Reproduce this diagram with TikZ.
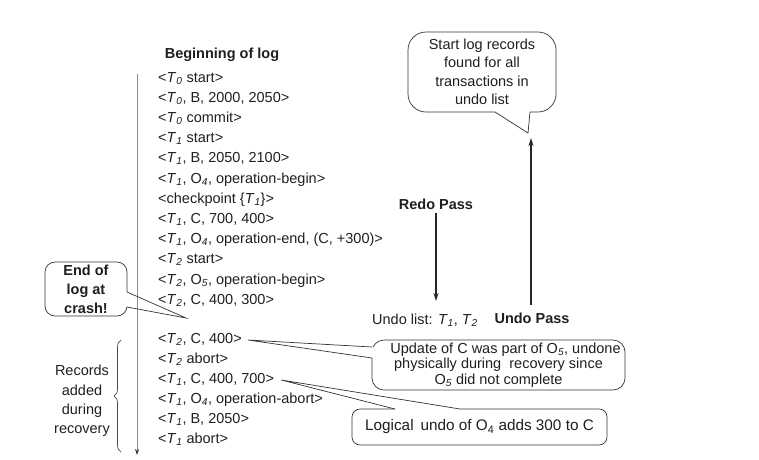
\documentclass[tikz,border=0pt]{standalone}
\usepackage{fontspec}
\setmainfont{Liberation Sans}
\usetikzlibrary{arrows.meta,decorations.pathreplacing}
\newcommand\Tt[1]{\textit{T}\textsubscript{\textit{#1}}}
\newcommand\Ob[1]{O\textsubscript{\textit{#1}}}
\newcommand\Oc[1]{O\textsubscript{#1}}
\begin{document}
\begin{tikzpicture}[x=1pt,y=-1pt,
  font=\fontsize{14.5}{17}\selectfont, text=black!88,
  logline/.style={anchor=west, text height=10pt, text depth=3pt, inner sep=0pt},
  boldtxt/.style={font=\bfseries\fontsize{14.5}{17}\selectfont},
  bubble/.style={draw=black!80, line width=0.7pt, fill=white, align=center, inner sep=0pt},
  tail/.style={draw=black!80, line width=0.7pt},
  arr/.style={draw=black!85, line width=1.3pt, -{Stealth[length=8pt,width=5pt]}},
  logarrow/.style={draw=black!45, line width=1pt, -{Stealth[length=6pt,width=4pt,color=black!80]}},
  bracestyle/.style={draw=black!70, line width=0.7pt, decorate, decoration={brace, amplitude=7pt}}]
\useasboundingbox (0,0) rectangle (759,459);

% log arrow and brace
\coordinate (ltop) at (137,74);
\coordinate (lbot) at (137,455);
\draw[logarrow] (ltop) -- (lbot);
\coordinate (bb) at (121,452);
\coordinate (bt) at (121,340);
\draw[bracestyle] (bb) -- (bt);

% headings
\node[boldtxt] (begin) at (222,55) {Beginning of log};

% log records
\node[logline] (l1)  at (158,79)  {<\Tt{0} start>};
\node[logline] (l2)  at (158,99)  {<\Tt{0}, B, 2000, 2050>};
\node[logline] (l3)  at (158,119) {<\Tt{0} commit>};
\node[logline] (l4)  at (158,139) {<\Tt{1} start>};
\node[logline] (l5)  at (158,159) {<\Tt{1}, B, 2050, 2100>};
\node[logline] (l6)  at (158,179.5) {<\Tt{1}, \Ob{4}, operation-begin>};
\node[logline] (l7)  at (158,200) {<checkpoint \{\Tt{1}\}>};
\node[logline] (l8)  at (158,220) {<\Tt{1}, C, 700, 400>};
\node[logline] (l9)  at (158,240) {<\Tt{1}, \Ob{4}, operation-end, (C, +300)>};
\node[logline] (l10) at (158,260) {<\Tt{2} start>};
\node[logline] (l11) at (158,280.5) {<\Tt{2}, \Ob{5}, operation-begin>};
\node[logline] (l12) at (158,300.5) {<\Tt{2}, C, 400, 300>};
\node[logline] (l13) at (158,340) {<\Tt{2}, C, 400>};
\node[logline] (l14) at (158,360) {<\Tt{2} abort>};
\node[logline] (l15) at (158,380) {<\Tt{1}, C, 400, 700>};
\node[logline] (l16) at (158,400) {<\Tt{1}, \Ob{4}, operation-abort>};
\node[logline] (l17) at (158,420) {<\Tt{1}, B, 2050>};
\node[logline] (l18) at (158,440) {<\Tt{1} abort>};

% records added during recovery
\node[align=center, font=\fontsize{14.5}{19.3}\selectfont] (rec) at (82,401) {Records\\added\\during\\recovery};

% End of log bubble
\node[bubble, rounded corners=10pt, minimum width=82pt, minimum height=54pt,
      font=\bfseries\fontsize{14.5}{19}\selectfont] (eol) at (86,289) {End of\\log at\\crash!};
\coordinate (eoltip) at (186,318);
\fill[white] (126,292) rectangle (128.5,307);
\draw[tail] (127,292) -- (eoltip) -- (127,307);

% Redo pass
\node[boldtxt] (redo) at (436,204) {Redo Pass};
\node (ulist) at (425,320) {Undo list: \Tt{1}, \Tt{2}};
\coordinate (redoend) at (436,301);
\draw[arr] (redo.south) -- (redoend);

% Undo pass
\node[boldtxt] (upass) at (532,318) {Undo Pass};
\coordinate (ubot) at (531,305);
\coordinate (utop) at (531,138);
\draw[arr] (ubot) -- (utop);

% Start log records bubble
\node[bubble, rounded corners=18pt, minimum width=148pt, minimum height=80pt,
      font=\fontsize{14.5}{18.5}\selectfont] (start) at (482,72)
  {Start log records\\found for all\\transactions in\\undo list};
\coordinate (starttip) at (528,133);
\fill[white] (495,110.5) rectangle (530,113.5);
\draw[tail] (495,112) -- (starttip) -- (530,112);

% Update bubble
\node[bubble, rounded corners=12pt, minimum width=253pt, minimum height=50pt,
      font=\fontsize{14.5}{15.5}\selectfont] (upd) at (498.5,365)
  {\hspace*{14pt}Update of C was part of \Ob{5}, undone\\physically during\ \ recovery since\\\Ob{5} did not complete};
\coordinate (updtip) at ([xshift=6pt]l13.east);
\fill[white] (370.5,347) rectangle (373.5,358);
\draw[tail] (372,347) -- (updtip) -- (372,358);

% Logical undo bubble
\node[bubble, rounded corners=8pt, minimum width=255pt, minimum height=36pt,
      font=\fontsize{15.3}{17}\selectfont] (logu) at (479.5,427)
  {Logical\hspace{7pt}undo of \Oc{4} adds 300 to C};
\coordinate (logtip) at ([xshift=7pt]l15.east);
\fill[white] (395,407.5) rectangle (460,410.5);
\draw[tail] (395,409) -- (logtip) -- (460,409);
\end{tikzpicture}
\end{document}
